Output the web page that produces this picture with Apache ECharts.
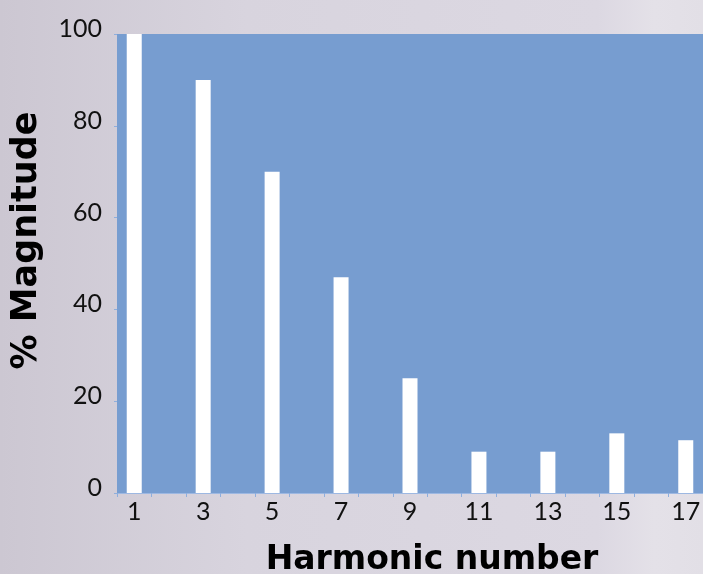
<!DOCTYPE html>
<html>
<head>
<meta charset="utf-8">
<script src="https://cdn.jsdelivr.net/npm/echarts@6/dist/echarts.min.js"></script>
<style>
html,body{margin:0;padding:0;}
#chart{width:703px;height:574px;background:linear-gradient(90deg,#ccc7d2 0%,#d8d4de 35%,#dcd8e2 85%,#e4e1e8 93%,#e2dfe6 100%);}
</style>
</head>
<body>
<div id="chart"></div>
<script>
// Data
const harmonics = [1, 3, 5, 7, 9, 11, 13, 15, 17];
const magnitudes = [100, 90, 70, 47, 25, 9, 9, 13, 11.5];
const yTicks = [0, 20, 40, 60, 80, 100];

// Category axis spans every integer 1..17; only odd harmonics carry bars
const categories = [];
const values = [];
for (let n = harmonics[0]; n <= harmonics[harmonics.length - 1]; n++) {
  categories.push(String(n));
  const idx = harmonics.indexOf(n);
  values.push(idx >= 0 ? magnitudes[idx] : null);
}

const chart = echarts.init(document.getElementById('chart'), null, {renderer: 'canvas'});
const labelFont = 'Lato, "DejaVu Sans", sans-serif';
chart.setOption({
  backgroundColor: 'transparent',
  animation: false,
  grid: {
    left: 117, top: 34, width: 586, height: 459,
    containLabel: false, outerBoundsMode: 'none',
    show: true, backgroundColor: '#779dd0', borderWidth: 0
  },
  xAxis: {
    type: 'category',
    data: categories,
    name: 'Harmonic number',
    nameLocation: 'middle',
    nameGap: 51,
    nameTextStyle: {
      fontFamily: '"DejaVu Sans", sans-serif', fontWeight: 'bold', fontSize: 33, color: '#000',
      padding: [0, 0, 0, 44]
    },
    axisLine: {show: true, lineStyle: {color: '#9db8e2', width: 1}},
    axisTick: {show: true, interval: 0, length: 4, lineStyle: {color: '#8eaedd'}},
    axisLabel: {
      interval: 1, margin: 6, fontSize: 25, fontFamily: labelFont, color: '#111'
    },
    splitLine: {show: false}
  },
  yAxis: {
    type: 'value',
    min: yTicks[0], max: yTicks[yTicks.length - 1], interval: 20,
    name: '% Magnitude',
    nameLocation: 'middle',
    nameGap: 73,
    nameRotate: 90,
    nameTextStyle: {
      fontFamily: '"DejaVu Sans", sans-serif', fontWeight: 'bold', fontSize: 35, color: '#000',
      padding: [0, 0, 0, 46]
    },
    axisLine: {show: false},
    axisTick: {show: true, length: 3, lineStyle: {color: '#8eaedd'}},
    axisLabel: {
      margin: 15, fontSize: 25, fontFamily: labelFont, color: '#111',
      verticalAlign: 'bottom', lineHeight: 10
    },
    splitLine: {show: false}
  },
  series: [{
    type: 'bar',
    data: values,
    barWidth: 15,
    itemStyle: {color: '#ffffff'}
  }]
});
</script>
</body>
</html>
